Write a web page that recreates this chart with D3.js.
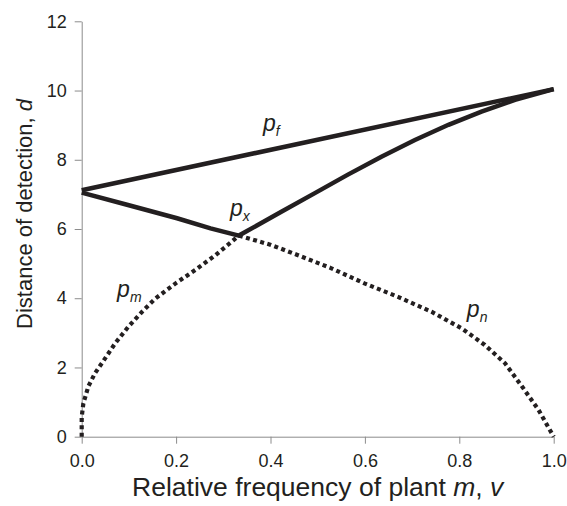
<!DOCTYPE html>
<html>
<head>
<meta charset="utf-8">
<script src="https://cdn.jsdelivr.net/npm/d3@7"></script>
<style>
  html, body { margin: 0; padding: 0; background: #fff; }
  svg { display: block; font-family: "Liberation Sans", Arial, Helvetica, sans-serif; }
</style>
</head>
<body>
<svg id="chart" width="567" height="506"></svg>
<script>
// ---- data ----
const xTicks = [0, 0.2, 0.4, 0.6, 0.8, 1.0];
const yTicks = [0, 2, 4, 6, 8, 10, 12];

// p_f : upper straight boundary
const pfV = [0, 1.0];
const pfD = [7.12, 10.04];

// p_x : lower solid boundary (kink at v = 1/3)
const pxV = [0, 0.096, 0.202, 0.273, 0.333, 0.422, 0.493, 0.564, 0.635, 0.706, 0.777, 0.847, 0.918, 1.0];
const pxD = [7.05, 6.70, 6.31, 6.02, 5.81, 6.49, 7.03, 7.57, 8.09, 8.57, 9.01, 9.39, 9.73, 10.04];

// p_m : dotted rising curve
const pmV = [0, 0, 0.0035, 0.014, 0.028, 0.05, 0.071, 0.099, 0.128, 0.156, 0.199, 0.241, 0.284, 0.333];
const pmD = [0, 0.57, 0.96, 1.45, 1.83, 2.27, 2.70, 3.18, 3.61, 3.99, 4.43, 4.82, 5.25, 5.81];

// p_n : dotted falling curve
const pnV = [0.333, 0.401, 0.457, 0.528, 0.599, 0.670, 0.741, 0.805, 0.854, 0.897, 0.933, 0.968, 1.0];
const pnD = [5.81, 5.54, 5.25, 4.87, 4.43, 4.04, 3.61, 3.13, 2.65, 2.12, 1.45, 0.77, 0];

const labelText = ["p", "p", "p", "p"];
const labelSub = ["f", "x", "m", "n"];
const labelV = [0.384, 0.314, 0.075, 0.816];
const labelD = [8.84, 6.38, 4.05, 3.47];

// ---- layout ----
const svg = d3.select("#chart");
const ink = "#231f20";
const axisGrey = "#8c8c8c";
const margin = { left: 81.7, right: 13.3, top: 21.3, bottom: 69.3 };
const W = 567, H = 506;

const x = d3.scaleLinear().domain([0, 1]).range([margin.left, W - margin.right]);
const y = d3.scaleLinear().domain([0, 12]).range([H - margin.bottom, margin.top]);

// axes
const gx = svg.append("g")
  .attr("transform", `translate(0,${y(0)})`)
  .call(d3.axisBottom(x).tickValues(xTicks).tickFormat(d3.format(".1f")).tickSize(7).tickPadding(11).tickSizeOuter(0));
const gy = svg.append("g")
  .attr("transform", `translate(${x(0)},0)`)
  .call(d3.axisLeft(y).tickValues(yTicks).tickFormat(d3.format("d")).tickSize(7).tickPadding(8).tickSizeOuter(0));

[gx, gy].forEach(g => {
  g.select(".domain").attr("stroke", axisGrey).attr("stroke-width", 1);
  g.selectAll(".tick line").attr("stroke", axisGrey).attr("stroke-width", 1);
  g.selectAll(".tick text").attr("fill", ink).attr("font-size", 18)
    .attr("font-family", "'Liberation Sans', Arial, sans-serif");
});

// lines
const line = d3.line().x(d => x(d[0])).y(d => y(d[1]));
const zip = (a, b) => a.map((v, i) => [v, b[i]]);

svg.append("path").datum(zip(pmV, pmD)).attr("d", line)
  .attr("fill", "none").attr("stroke", ink).attr("stroke-width", 4.2)
  .attr("stroke-dasharray", "4,3.4");
svg.append("path").datum(zip(pnV, pnD)).attr("d", line)
  .attr("fill", "none").attr("stroke", ink).attr("stroke-width", 4.2)
  .attr("stroke-dasharray", "4,3.4");
svg.append("path").datum(zip(pfV, pfD)).attr("d", line)
  .attr("fill", "none").attr("stroke", ink).attr("stroke-width", 4.5)
  .attr("stroke-linejoin", "miter");
svg.append("path").datum(zip(pxV, pxD)).attr("d", line)
  .attr("fill", "none").attr("stroke", ink).attr("stroke-width", 4.5)
  .attr("stroke-linejoin", "miter");

// curve labels
labelText.forEach((t, i) => {
  const tx = svg.append("text")
    .attr("x", x(labelV[i])).attr("y", y(labelD[i]))
    .attr("fill", ink).attr("font-style", "italic").attr("font-size", 23);
  tx.append("tspan").text(t);
  tx.append("tspan").attr("font-size", 14).attr("dy", 5).text(labelSub[i]);
});

// axis titles
svg.append("text")
  .attr("x", x(0.5)).attr("y", 496)
  .attr("text-anchor", "middle").attr("fill", ink).attr("font-size", 26.5)
  .call(t => {
    t.append("tspan").text("Relative frequency of plant ");
    t.append("tspan").attr("font-style", "italic").text("m");
    t.append("tspan").text(", ");
    t.append("tspan").attr("font-style", "italic").text("v");
  });

svg.append("text")
  .attr("transform", `translate(32,214) rotate(-90)`)
  .attr("text-anchor", "middle").attr("fill", ink).attr("font-size", 22)
  .call(t => {
    t.append("tspan").text("Distance of detection, ");
    t.append("tspan").attr("font-style", "italic").text("d");
  });
</script>
</body>
</html>
